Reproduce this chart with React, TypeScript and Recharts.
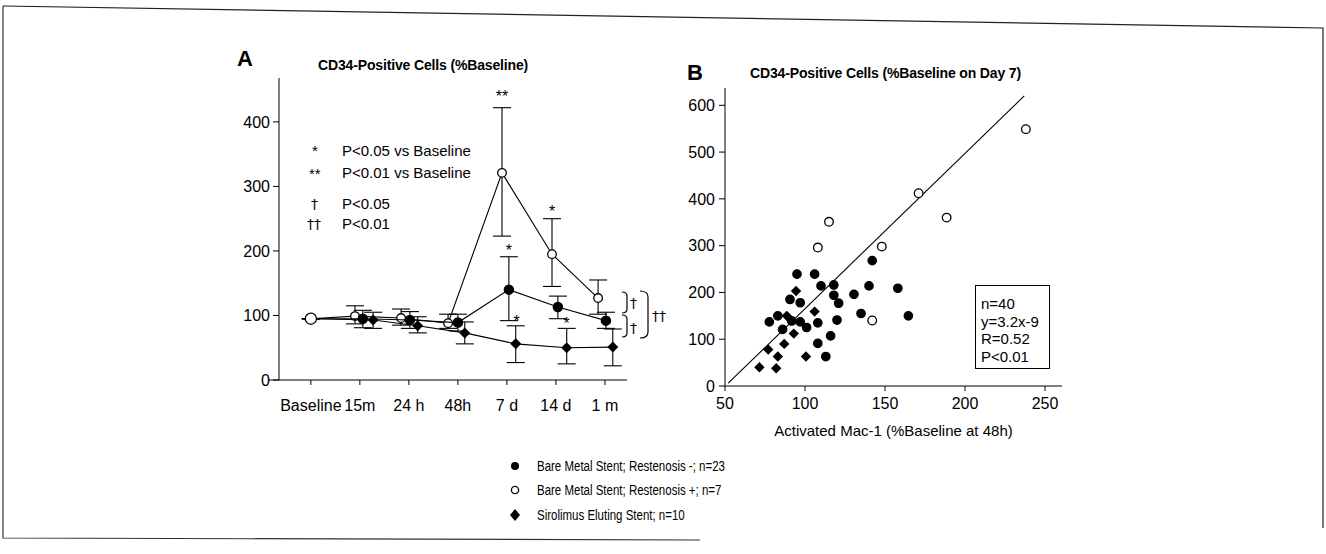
import React from 'react';
import { ScatterChart, Scatter, XAxis, YAxis, ErrorBar } from 'recharts';

// Panel A: time course, x = time index (0 = Baseline) with a little horizontal jitter per group
const timeTicks = [0, 1, 2, 3, 4, 5, 6];
const timeLabels = ['Baseline', '15m', '24 h', '48h', '7 d', '14 d', '1 m'];

const bmsPosTime = [0, 0.9, 1.84, 2.8, 3.9, 4.92, 5.86];
const bmsPosMean = [95, 99, 96, 88, 321, 195, 127];
const bmsPosLow = [95, 87, 85, 80, 223, 145, 102];
const bmsPosHigh = [95, 115, 110, 102, 422, 250, 155];

const bmsNegTime = [0, 1.06, 2.02, 3.0, 4.04, 5.04, 6.02];
const bmsNegMean = [95, 95, 93, 89, 140, 113, 92];
const bmsNegLow = [95, 81, 80, 76, 92, 95, 80];
const bmsNegHigh = [95, 108, 106, 102, 191, 130, 105];

const sesTime = [0, 1.27, 2.18, 3.14, 4.18, 5.22, 6.16];
const sesMean = [95, 93, 84, 73, 56, 50, 51];
const sesLow = [95, 80, 73, 56, 27, 25, 22];
const sesHigh = [95, 105, 98, 90, 84, 80, 79];

const sigTime = [3.9, 4.92, 4.04, 4.2, 5.22];
const sigValue = [445, 267, 206, 96, 93];
const sigText = ['**', '*', '*', '*', '*'];

// Panel B: Mac-1 (x) vs CD34 (y)
const negMac = [95, 106, 142, 110, 118, 140, 158, 90.6, 97, 118, 130.6, 121, 77.7, 83, 91.7, 97, 101, 108, 120, 135, 164.6, 86, 116, 108, 113];
const negCd34 = [239, 239, 268, 214, 216, 214, 209, 185, 178, 194, 196, 177, 137, 150, 139, 137, 125, 135, 141, 155, 150, 121, 107, 91, 63];
const posMac = [108, 115, 148, 142, 171, 188.5, 238];
const posCd34 = [296, 351, 298, 140, 412, 360, 549];
const sesMac = [94.4, 106, 93, 87, 77, 83, 100.6, 71.5, 82, 88.6];
const sesCd34 = [203, 159, 112, 90, 78, 63, 63, 40, 38, 150];
const fitMac = [52, 237];
const fitCd34 = [6, 620];

const macTicks = [50, 100, 150, 200, 250];
const cd34Ticks = [0, 100, 200, 300, 400, 500, 600];
const pctTicks = [0, 100, 200, 300, 400];

const series = (t: number[], m: number[], lo: number[], hi: number[]) =>
  t.map((x, i) => ({ x, y: m[i], err: [m[i] - lo[i], hi[i] - m[i]] }));
const points = (xs: number[], ys: number[]) => xs.map((x, i) => ({ x, y: ys[i] }));

const bmsPos = series(bmsPosTime, bmsPosMean, bmsPosLow, bmsPosHigh);
const bmsNeg = series(bmsNegTime, bmsNegMean, bmsNegLow, bmsNegHigh);
const ses = series(sesTime, sesMean, sesLow, sesHigh);
const baseline = [{ x: bmsPosTime[0], y: bmsPosMean[0] }];
const sigMarks = sigTime.map((x, i) => ({ x, y: sigValue[i], t: sigText[i] }));

const FONT = '"Liberation Sans", Arial, sans-serif';
const SYM = '"DejaVu Sans", "Liberation Sans", sans-serif';

const circle = (r: number, fill: string) => (p: any) =>
  <circle cx={p.cx} cy={p.cy} r={r} fill={fill} stroke="#000" strokeWidth={1.3} />;
const diamond = (s: number) => (p: any) =>
  <path d={`M${p.cx},${p.cy - s}L${p.cx + s},${p.cy}L${p.cx},${p.cy + s}L${p.cx - s},${p.cy}Z`} fill="#000" />;
const nothing = () => <g />;
const sigShape = (p: any) =>
  <text x={p.cx} y={p.cy + 9} textAnchor="middle" fontSize={16} fill="#000">{p.payload.t}</text>;

const tickStyle = { fontSize: 16, fill: '#000' };

const abs = (left: number, top: number, extra: React.CSSProperties = {}): React.CSSProperties => ({
  position: 'absolute', left, top, whiteSpace: 'nowrap', lineHeight: 1, ...extra,
});
const legendText: React.CSSProperties = { fontSize: 14, transform: 'scaleX(0.82)', transformOrigin: 'left center' };

export default function App() {
  return (
    <div style={{ position: 'absolute', left: 0, top: 0, width: 1326, height: 554, background: '#fff', fontFamily: FONT, color: '#000' }}>
      <svg width={1326} height={554} style={{ position: 'absolute', left: 0, top: 0 }}>
        <path d="M3,6 L1323,28 L1323,528" fill="none" stroke="#222" strokeWidth={1.2} />
        <path d="M3,6 L3,538 L700,540" fill="none" stroke="#333" strokeWidth={1.2} />
        <line x1={269} y1={380} x2={279} y2={380} stroke="#000" />
        {/* significance brackets */}
        <g fill="none" stroke="#000" strokeWidth={1.2}>
          <path d="M622,292 Q627,292 627,296 L627,309 Q627,313 622,313" />
          <path d="M622,315 Q627,315 627,319 L627,333 Q627,337 622,337" />
          <path d="M640,291 Q648,291 648,297 L648,332 Q648,338 640,338" />
        </g>
        <g fontSize={14} fill="#000" fontFamily={SYM}>
          <text x={630} y={308}>†</text>
          <text x={630} y={333}>†</text>
          <text x={652} y={321}>††</text>
        </g>
      </svg>

      <div style={abs(237, 48, { fontSize: 22, fontWeight: 'bold' })}>A</div>
      <div style={abs(318, 58, { fontSize: 14, fontWeight: 'bold', letterSpacing: -0.15 })}>CD34-Positive Cells (%Baseline)</div>
      <div style={abs(687, 62, { fontSize: 22, fontWeight: 'bold' })}>B</div>
      <div style={abs(750, 66, { fontSize: 14, fontWeight: 'bold', letterSpacing: -0.15 })}>CD34-Positive Cells (%Baseline on Day 7)</div>

      <div style={abs(312, 143, { fontSize: 15 })}>*</div>
      <div style={abs(342, 143, { fontSize: 15 })}>P&lt;0.05 vs Baseline</div>
      <div style={abs(309, 166, { fontSize: 15 })}>**</div>
      <div style={abs(342, 165, { fontSize: 15 })}>P&lt;0.01 vs Baseline</div>
      <div style={abs(311, 197, { fontSize: 14, fontFamily: SYM })}>†</div>
      <div style={abs(342, 196, { fontSize: 15 })}>P&lt;0.05</div>
      <div style={abs(307, 217, { fontSize: 14, fontFamily: SYM })}>††</div>
      <div style={abs(342, 216, { fontSize: 15 })}>P&lt;0.01</div>

      <div style={abs(200, 40)}>
        <ScatterChart width={460} height={420} margin={{ top: 38, right: 33, bottom: 50, left: 39 }}>
          <XAxis type="number" dataKey="x" domain={[-0.65, 6.45]} ticks={timeTicks}
            tickFormatter={(v: number) => timeLabels[v]} tick={tickStyle} tickSize={5} tickMargin={15}
            stroke="#000" height={30} allowDataOverflow interval={0} />
          <YAxis type="number" dataKey="y" domain={[0, 468]} ticks={pctTicks} tick={tickStyle}
            tickSize={6} tickMargin={3} stroke="#000" width={40} allowDataOverflow />
          <Scatter data={bmsPos} line={{ stroke: '#000', strokeWidth: 1.1 }} lineType="joint" shape={circle(4.3, '#fff')} isAnimationActive={false}>
            <ErrorBar dataKey="err" direction="y" width={9} stroke="#000" strokeWidth={1.1} isAnimationActive={false} />
          </Scatter>
          <Scatter data={bmsNeg} line={{ stroke: '#000', strokeWidth: 1.1 }} lineType="joint" shape={circle(4.6, '#000')} isAnimationActive={false}>
            <ErrorBar dataKey="err" direction="y" width={9} stroke="#000" strokeWidth={1.1} isAnimationActive={false} />
          </Scatter>
          <Scatter data={ses} line={{ stroke: '#000', strokeWidth: 1.1 }} lineType="joint" shape={diamond(5.5)} isAnimationActive={false}>
            <ErrorBar dataKey="err" direction="y" width={9} stroke="#000" strokeWidth={1.1} isAnimationActive={false} />
          </Scatter>
          <Scatter data={baseline} shape={circle(5.6, '#fff')} isAnimationActive={false} />
          <Scatter data={sigMarks} shape={sigShape} isAnimationActive={false} />
        </ScatterChart>
      </div>

      <div style={abs(680, 40)}>
        <ScatterChart width={400} height={420} margin={{ top: 48, right: 18, bottom: 24, left: 5 }}>
          <XAxis type="number" dataKey="x" domain={[50, 260.6]} ticks={macTicks} tick={tickStyle}
            tickSize={5} tickMargin={7} stroke="#000" height={50} allowDataOverflow interval={0}
            label={{ value: 'Activated Mac-1 (%Baseline at 48h)', position: 'insideBottom', offset: 0, fontSize: 15, fill: '#000' }} />
          <YAxis type="number" dataKey="y" domain={[0, 637]} ticks={cd34Ticks} tick={tickStyle}
            tickSize={6} tickMargin={4} stroke="#000" width={40} allowDataOverflow interval={0} />
          <Scatter data={points(fitMac, fitCd34)} line={{ stroke: '#000', strokeWidth: 1.1 }} lineType="joint" shape={nothing} isAnimationActive={false} />
          <Scatter data={points(negMac, negCd34)} shape={circle(4.2, '#000')} isAnimationActive={false} />
          <Scatter data={points(sesMac, sesCd34)} shape={diamond(5.2)} isAnimationActive={false} />
          <Scatter data={points(posMac, posCd34)} shape={circle(4.3, '#fff')} isAnimationActive={false} />
        </ScatterChart>
      </div>

      <div style={abs(975, 285, { width: 75, height: 84, border: '1px solid #000', boxSizing: 'border-box', padding: '9px 0 0 5px', fontSize: 15, lineHeight: '17.7px' })}>
        <div>n=40</div>
        <div>y=3.2x-9</div>
        <div>R=0.52</div>
        <div>P&lt;0.01</div>
      </div>

      <svg width={30} height={70} style={{ position: 'absolute', left: 500, top: 452 }}>
        <circle cx={15} cy={14} r={4} fill="#000" />
        <circle cx={15} cy={38} r={3.6} fill="#fff" stroke="#000" strokeWidth={1.3} />
        <path d="M15,57 L20,63 L15,69 L10,63 Z" fill="#000" />
      </svg>
      <div style={abs(537, 459, legendText)}>Bare Metal Stent; Restenosis -; n=23</div>
      <div style={abs(537, 483, legendText)}>Bare Metal Stent; Restenosis +; n=7</div>
      <div style={abs(537, 508, legendText)}>Sirolimus Eluting Stent; n=10</div>
    </div>
  );
}
